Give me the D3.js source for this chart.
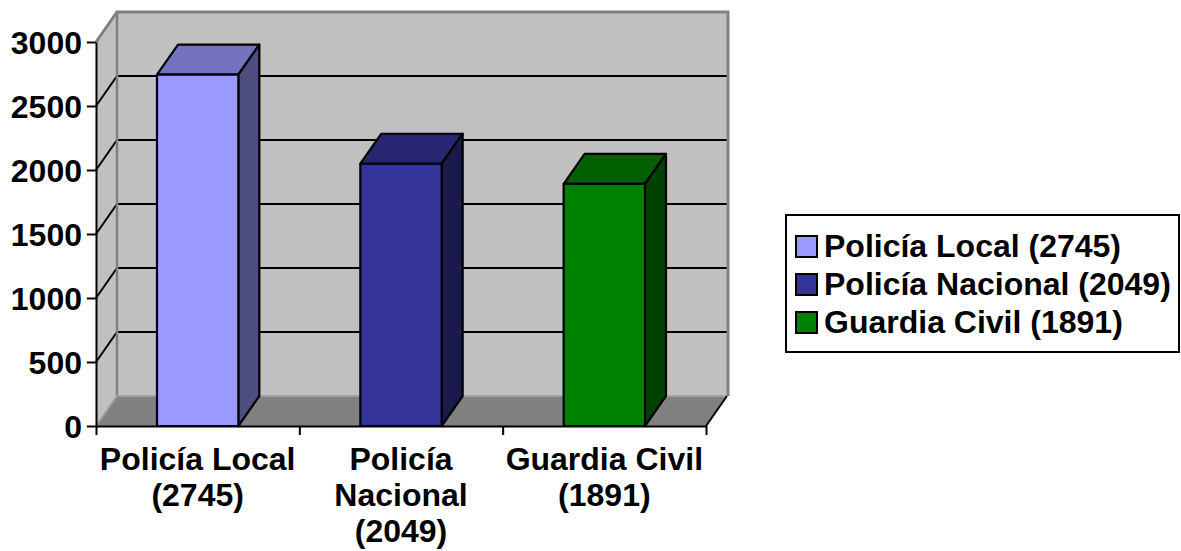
<!DOCTYPE html>
<html>
<head>
<meta charset="utf-8">
<script src="https://cdn.jsdelivr.net/npm/d3@7"></script>
<style>
  body { margin: 0; background: #fff; }
  svg text { font-family: "Liberation Sans", Arial, sans-serif; font-weight: bold; fill: #000; }
</style>
</head>
<body>
<svg class="chart" width="1181" height="551"></svg>
<script>
// data
var categories = ['Policía Local (2745)', 'Policía Nacional (2049)', 'Guardia Civil (1891)']
var values = [2745, 2049, 1891]
var colors = ['#9999ff', '#333399', '#008000']
var yTicks = [0, 500, 1000, 1500, 2000, 2500, 3000]

var DX = 21, DY = -30   // depth of the 3d box

var svg = d3.select('.chart')

var y = d3.scaleLinear().domain([0, 3000]).range([426, 42])
var x = d3.scaleBand().domain(categories).range([96, 706])
var xEdge = d3.scaleLinear().domain([0, categories.length]).range([96, 706])

function shade(c, k) {
    var r = d3.rgb(c)
    return d3.rgb(r.r * k, r.g * k, r.b * k).formatHex()
}

function pts(arr) { return arr.map(function(p) { return p.join(',') }).join(' ') }

var x0 = x.range()[0], x1 = x.range()[1]
var yTop = y(3000), yBot = y(0)

// left side wall
svg.append('polygon')
    .attr('points', pts([[x0, yTop], [x0 + DX, yTop + DY], [x0 + DX, yBot + DY], [x0, yBot]]))
    .style('fill', '#c0c0c0')

// back wall
svg.append('rect')
    .attr('x', x0 + DX).attr('y', yTop + DY)
    .attr('width', x1 - x0).attr('height', yBot - yTop)
    .style('fill', '#c0c0c0')

// floor
svg.append('polygon')
    .attr('points', pts([[x0, yBot], [x1, yBot], [x1 + DX, yBot + DY], [x0 + DX, yBot + DY]]))
    .style('fill', '#808080')

// gridlines on back wall and side wall
var grid = yTicks.filter(function(d) { return d > 0 && d < 3000 })
svg.selectAll('.grid').data(grid).enter()
    .append('polyline')
    .attr('class', 'grid')
    .attr('points', function(d) { return pts([[x0, y(d)], [x0 + DX, y(d) + DY], [x1 + DX, y(d) + DY]]) })
    .style('fill', 'none').style('stroke', '#000').style('stroke-width', 2)

// wall edges
svg.append('polyline')
    .attr('points', pts([[x0, yTop], [x0 + DX, yTop + DY], [x1 + DX + 1, yTop + DY], [x1 + DX + 1, yBot + DY]]))
    .style('fill', 'none').style('stroke', '#808080').style('stroke-width', 3)
svg.append('line')
    .attr('x1', x0 + DX).attr('y1', yTop + DY).attr('x2', x0 + DX).attr('y2', yBot + DY)
    .style('stroke', '#808080').style('stroke-width', 2.5)
svg.append('polyline')
    .attr('points', pts([[x0, yBot], [x0 + DX, yBot + DY], [x1 + DX, yBot + DY]]))
    .style('fill', 'none').style('stroke', '#a0a0a0').style('stroke-width', 2)
svg.append('line')
    .attr('x1', x1).attr('y1', yBot).attr('x2', x1 + DX).attr('y2', yBot + DY)
    .style('stroke', '#000').style('stroke-width', 2)

// bars
var bw = x.bandwidth() * 0.4
var bars = svg.selectAll('.bar').data(values).enter()
    .append('g').attr('class', 'bar')

bars.each(function(d, i) {
    var g = d3.select(this)
    var l = x(categories[i]) + (x.bandwidth() - bw) / 2
    var r = l + bw
    var t = y(d), b = y(0)
    // top
    g.append('polygon')
        .attr('points', pts([[l, t], [l + DX, t + DY], [r + DX, t + DY], [r, t]]))
        .style('fill', shade(colors[i], 0.75))
    // side
    g.append('polygon')
        .attr('points', pts([[r, t], [r + DX, t + DY], [r + DX, b + DY], [r, b]]))
        .style('fill', shade(colors[i], 0.5))
    // front
    g.append('rect')
        .attr('x', l).attr('y', t).attr('width', bw).attr('height', b - t)
        .style('fill', colors[i])
    g.selectAll('polygon, rect')
        .style('stroke', '#000').style('stroke-width', 2.2).style('stroke-linejoin', 'round')
})

// y axis
var yAxis = d3.axisLeft(y).tickValues(yTicks).tickFormat(d3.format('d'))
    .tickSize(9).tickSizeOuter(0).tickPadding(5)
var yG = svg.append('g').attr('class', 'y-axis')
    .attr('transform', 'translate(' + x0 + ',0)')
    .call(yAxis)
yG.selectAll('path, line').style('stroke', '#000').style('stroke-width', 2)
yG.selectAll('text').style('font-size', '32px').attr('dy', '0.36em')

// x axis
var xAxis = d3.axisBottom(xEdge).tickValues(d3.range(categories.length + 1))
    .tickSize(9).tickSizeOuter(0).tickFormat('')
var xG = svg.append('g').attr('class', 'x-axis')
    .attr('transform', 'translate(0,' + yBot + ')')
    .call(xAxis)
xG.selectAll('path, line').style('stroke', '#000').style('stroke-width', 2)

// category labels, wrapped to the band width like excel does
var labels = svg.selectAll('.x-label').data(categories).enter()
    .append('text')
    .attr('class', 'x-label')
    .attr('text-anchor', 'middle')
    .style('font-size', '32px')
    .attr('x', function(d) { return x(d) + x.bandwidth() / 2 })
    .attr('y', 470)

labels.each(function(d) {
    var text = d3.select(this)
    var words = d.split(' ')
    var lines = []
    var line = []
    var tspan = text.append('tspan')
    words.forEach(function(w) {
        line.push(w)
        tspan.text(line.join(' '))
        if (tspan.node().getComputedTextLength() > x.bandwidth() && line.length > 1) {
            line.pop()
            lines.push(line.join(' '))
            line = [w]
        }
    })
    lines.push(line.join(' '))
    text.text('')
    var cx = text.attr('x')
    lines.forEach(function(s, k) {
        text.append('tspan').attr('x', cx).attr('dy', k === 0 ? 0 : 36).text(s)
    })
})

// legend
var legend = svg.append('g').attr('class', 'legend')
legend.append('rect')
    .attr('x', 786).attr('y', 215).attr('width', 393).attr('height', 137)
    .style('fill', '#fff').style('stroke', '#000').style('stroke-width', 2)

legend.selectAll('.legendbox').data(colors).enter()
    .append('rect')
    .attr('class', 'legendbox')
    .attr('x', 796)
    .attr('y', function(d, i) { return 236 + i * 38 })
    .attr('width', 21).attr('height', 21)
    .style('fill', function(d) { return d })
    .style('stroke', '#000').style('stroke-width', 2)

legend.selectAll('.legendlabel').data(categories).enter()
    .append('text')
    .attr('class', 'legendlabel')
    .attr('x', 824)
    .attr('y', function(d, i) { return 257 + i * 38 })
    .style('font-size', '32px')
    .text(function(d) { return d })
</script>
</body>
</html>
